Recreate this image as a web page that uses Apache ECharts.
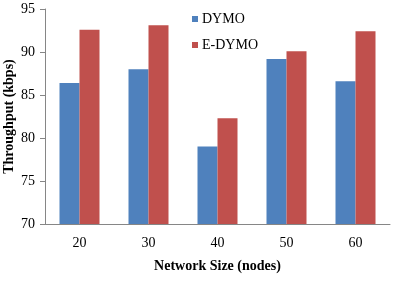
<!DOCTYPE html>
<html>
<head>
<meta charset="utf-8">
<script src="https://cdn.jsdelivr.net/npm/echarts@6/dist/echarts.min.js"></script>
<style>
html,body{margin:0;padding:0;background:#fff;}
#chart{width:394px;height:284px;}
</style>
</head>
<body>
<div id="chart"></div>
<script>
const categories = ['20', '30', '40', '50', '60'];
const dymo = [86.4, 88.0, 79.0, 89.2, 86.6];
const edymo = [92.6, 93.1, 82.3, 90.1, 92.4];
const seriesNames = ['DYMO', 'E-DYMO'];
const yTicks = { min: 70, max: 95, interval: 5 };

const font = 'Liberation Serif, Times New Roman, serif';
const chart = echarts.init(document.getElementById('chart'), null, { renderer: 'canvas' });
chart.setOption({
  animation: false,
  backgroundColor: '#ffffff',
  textStyle: { fontFamily: font, color: '#000' },
  grid: { left: 45, right: 4, top: 9, bottom: 60, containLabel: false, outerBoundsMode: 'none' },
  legend: {
    orient: 'vertical',
    left: 187,
    top: 7,
    itemWidth: 6,
    itemHeight: 6,
    itemGap: 12,
    icon: 'rect',
    textStyle: { fontFamily: font, fontSize: 14, color: '#000', padding: [0, 0, 0, -1] },
    data: seriesNames
  },
  xAxis: {
    type: 'category',
    data: categories,
    name: 'Network Size (nodes)',
    nameLocation: 'middle',
    nameGap: 35,
    nameMoveOverlap: false,
    nameTextStyle: { fontFamily: font, fontSize: 14, fontWeight: 'bold', color: '#000' },
    axisLine: { lineStyle: { color: '#868686', width: 1 } },
    axisTick: { show: false },
    axisLabel: { fontFamily: font, fontSize: 14, color: '#000', margin: 12 }
  },
  yAxis: {
    type: 'value',
    min: yTicks.min,
    max: yTicks.max,
    interval: yTicks.interval,
    name: 'Throughput (kbps)',
    nameLocation: 'middle',
    nameGap: 29,
    nameMoveOverlap: false,
    nameTextStyle: { fontFamily: font, fontSize: 14, fontWeight: 'bold', color: '#000' },
    axisLine: { show: true, lineStyle: { color: '#868686', width: 1 } },
    axisTick: { show: true, length: 5, lineStyle: { color: '#868686' } },
    splitLine: { show: false },
    axisLabel: { fontFamily: font, fontSize: 14, color: '#000', margin: 10 }
  },
  series: [
    { name: seriesNames[0], type: 'bar', data: dymo, barWidth: 20, barGap: '0%', itemStyle: { color: '#4F81BD' } },
    { name: seriesNames[1], type: 'bar', data: edymo, barWidth: 20, barGap: '0%', itemStyle: { color: '#C0504D' } }
  ]
});
</script>
</body>
</html>
